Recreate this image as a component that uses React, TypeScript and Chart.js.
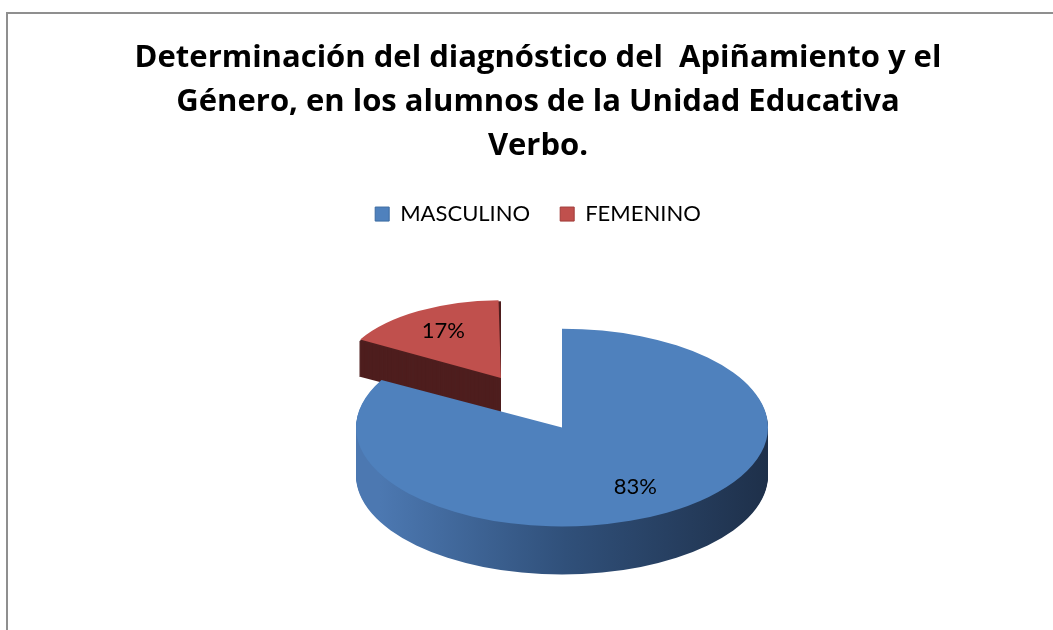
import React, { useEffect, useRef } from 'react';
import { Chart, registerables } from 'chart.js';

Chart.register(...registerables);

const titleLines = [
  'Determinación del diagnóstico del  Apiñamiento y el',
  'Género, en los alumnos de la Unidad Educativa',
  'Verbo.',
];
const categories = ['MASCULINO', 'FEMENINO'];
const percentages = [83, 17];

const TOP_COLORS = ['#4f81bd', '#c0504d'];
const BORDER_COLORS = ['#3b6aa0', '#a03a37'];
const PIE_RADIUS = 206;
const TILT = 0.48;
const DEPTHS = [48, 36];
const PERSPECTIVE = [1, 0.714];
const SHIFT_X = 24;
const LABEL_FRACTION = 0.7;

function sideFill(ctx: CanvasRenderingContext2D, i: number, left: number, right: number) {
  if (i === 0 && isFinite(left) && isFinite(right)) {
    const g = ctx.createLinearGradient(left, 0, right, 0);
    g.addColorStop(0, '#4c78b1');
    g.addColorStop(0.45, '#30507a');
    g.addColorStop(1, '#1c2c44');
    return g;
  }
  return i === 0 ? '#30507a' : '#4e1e1e';
}

function arcGeom(arc: any) {
  const off = (arc.options.offset || 0) / 4;
  const half = (arc.startAngle + arc.endAngle) / 2;
  const circ = arc.endAngle - arc.startAngle;
  const fix = 1 - Math.sin(Math.min(Math.PI, circ));
  const r = arc.outerRadius + off * fix;
  return {
    ox: arc.x + Math.cos(half) * off,
    oy: arc.y + Math.sin(half) * off,
    r,
    half,
    start: arc.startAngle,
    end: arc.endAngle,
  };
}

function applyPerspective(chart: any) {
  const arcs = chart.getDatasetMeta(0).data;
  arcs.forEach((arc: any, i: number) => {
    arc.outerRadius = PIE_RADIUS * PERSPECTIVE[i];
  });
}

const pie3d = {
  id: 'pie3d',
  beforeDatasetsDraw(chart: any) {
    const ctx: CanvasRenderingContext2D = chart.ctx;
    const arcs = chart.getDatasetMeta(0).data;
    if (!arcs.length) return;
    applyPerspective(chart);
    const cx = arcs[0].x;
    const cy = arcs[0].y;
    arcs.forEach((arc: any, i: number) => {
      const g = arcGeom(arc);
      const fill = sideFill(ctx, i, g.ox + SHIFT_X - g.r, g.ox + SHIFT_X + g.r);
      for (let k = DEPTHS[i]; k >= 1; k--) {
        ctx.save();
        ctx.translate(SHIFT_X, k);
        ctx.translate(cx, cy);
        ctx.scale(1, TILT);
        ctx.translate(-cx, -cy);
        ctx.beginPath();
        ctx.moveTo(g.ox, g.oy);
        ctx.arc(g.ox, g.oy, g.r, g.start, g.end);
        ctx.closePath();
        ctx.fillStyle = fill as any;
        ctx.fill();
        ctx.restore();
      }
    });
    ctx.save();
    ctx.translate(SHIFT_X, 0);
    ctx.translate(cx, cy);
    ctx.scale(1, TILT);
    ctx.translate(-cx, -cy);
  },
  afterDatasetsDraw(chart: any) {
    const ctx: CanvasRenderingContext2D = chart.ctx;
    ctx.restore();
    const arcs = chart.getDatasetMeta(0).data;
    if (!arcs.length) return;
    const cy = arcs[0].y;
    const values = chart.data.datasets[0].data as number[];
    ctx.save();
    ctx.font = '22px Lato';
    ctx.fillStyle = '#000';
    ctx.textAlign = 'center';
    ctx.textBaseline = 'middle';
    arcs.forEach((arc: any, i: number) => {
      const g = arcGeom(arc);
      const px = g.ox + Math.cos(g.half) * g.r * LABEL_FRACTION + SHIFT_X;
      const py = cy + (g.oy + Math.sin(g.half) * g.r * LABEL_FRACTION - cy) * TILT;
      ctx.fillText(values[i] + '%', px, py);
    });
    ctx.restore();
  },
};

export default function App() {
  const ref = useRef<HTMLCanvasElement>(null);
  useEffect(() => {
    if (!ref.current) return;
    Chart.defaults.font.family = 'Lato';
    const chart = new Chart(ref.current, {
      type: 'pie',
      data: {
        labels: categories,
        datasets: [
          {
            data: percentages,
            backgroundColor: TOP_COLORS,
            borderWidth: 0,
            offset: [0, 480],
            clip: false,
          } as any,
        ],
      },
      options: {
        responsive: false,
        animation: false,
        events: [],
        radius: PIE_RADIUS,
        rotation: 0,
        layout: { padding: { top: 0, bottom: 14, left: 0, right: 0 } },
        plugins: {
          title: {
            display: true,
            text: titleLines,
            color: '#000',
            font: { family: 'Open Sans', size: 31, weight: 'bold', lineHeight: 1.42 },
            padding: { top: 22, bottom: 5 },
          },
          legend: {
            display: true,
            position: 'top',
            labels: {
              color: '#000',
              font: { family: 'Lato', size: 22 },
              boxWidth: 14,
              boxHeight: 14,
              padding: 30,
              generateLabels: (c: any) => {
                const base = (Chart as any).overrides.pie.plugins.legend.labels.generateLabels(c);
                return base.map((l: any, i: number) => ({
                  ...l,
                  strokeStyle: BORDER_COLORS[i],
                  lineWidth: 1,
                }));
              },
            },
          },
          tooltip: { enabled: false },
        },
      } as any,
      plugins: [pie3d],
    });
    return () => chart.destroy();
  }, []);

  return (
    <div
      style={{
        position: 'fixed',
        left: 0,
        top: 0,
        width: 1053,
        height: 630,
        overflow: 'hidden',
        background: '#fff',
      }}
    >
      <div
        style={{
          position: 'absolute',
          left: 6,
          top: 12,
          width: 1060,
          height: 640,
          border: '2px solid #8f8f8f',
        }}
      >
        <canvas ref={ref} width={1060} height={620} style={{ display: 'block' }} />
      </div>
    </div>
  );
}
